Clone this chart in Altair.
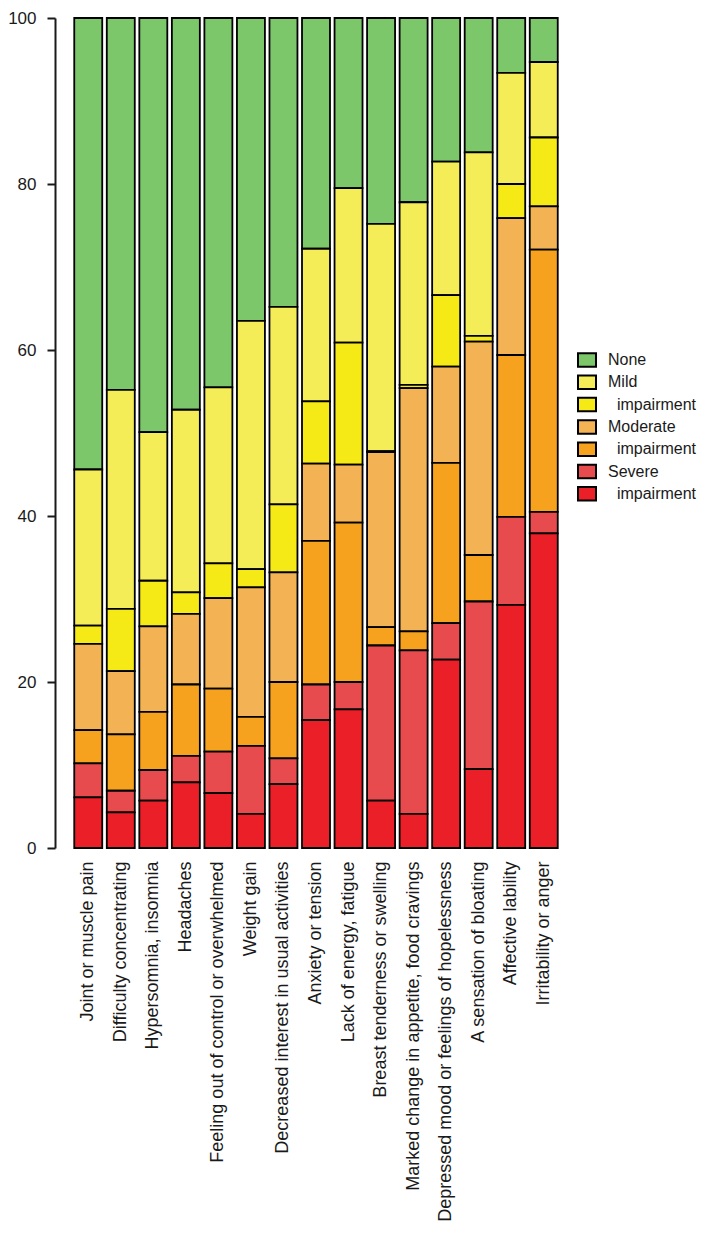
import altair as alt
import pandas as pd

categories = [
    "Joint or muscle pain",
    "Difficulty concentrating",
    "Hypersomnia, insomnia",
    "Headaches",
    "Feeling out of control or overwhelmed",
    "Weight gain",
    "Decreased interest in usual activities",
    "Anxiety or tension",
    "Lack of energy, fatigue",
    "Breast tenderness or swelling",
    "Marked change in appetite, food cravings",
    "Depressed mood or feelings of hopelessness",
    "A sensation of bloating",
    "Affective lability",
    "Irritability or anger",
]

severe_impairment = [6.1, 4.3, 5.7, 7.9, 6.6, 4.1, 7.7, 15.4, 16.7, 5.7, 4.1, 22.7, 9.5, 29.3, 37.9]
severe = [4.1, 2.6, 3.7, 3.2, 5.0, 8.2, 3.1, 4.3, 3.3, 18.7, 19.7, 4.4, 20.2, 10.6, 2.6]
moderate_impairment = [4.0, 6.8, 7.0, 8.6, 7.6, 3.5, 9.2, 17.3, 19.2, 2.2, 2.3, 19.3, 5.6, 19.5, 31.6]
moderate = [10.4, 7.6, 10.3, 8.5, 10.9, 15.6, 13.2, 9.3, 7.0, 21.1, 29.3, 11.6, 25.7, 16.5, 5.2]
mild_impairment = [2.2, 7.5, 5.5, 2.6, 4.2, 2.2, 8.2, 7.5, 14.7, 0.1, 0.4, 8.6, 0.7, 4.1, 8.3]
mild = [18.8, 26.4, 17.9, 22.0, 21.2, 29.9, 23.8, 18.4, 18.6, 27.4, 22.0, 16.1, 22.1, 13.4, 9.1]
none = [54.4, 44.8, 49.9, 47.2, 44.5, 36.5, 34.8, 27.8, 20.5, 24.8, 22.2, 17.3, 16.2, 6.6, 5.3]

levels = ["None", "Mild", "Mild impairment", "Moderate", "Moderate impairment",
          "Severe", "Severe impairment"]
colors = ["#7cc76a", "#f5ed57", "#f6ea16", "#f3b355", "#f6a21f", "#e84b4e", "#ea1f27"]
stack_rank = [6, 5, 4, 3, 2, 1, 0]

series = {
    "None": none,
    "Mild": mild,
    "Mild impairment": mild_impairment,
    "Moderate": moderate,
    "Moderate impairment": moderate_impairment,
    "Severe": severe,
    "Severe impairment": severe_impairment,
}

rows = []
for lvl, rank in zip(levels, stack_rank):
    for cat, v in zip(categories, series[lvl]):
        rows.append({"symptom": cat, "level": lvl, "value": v, "rank": rank})
df = pd.DataFrame(rows)

FONT = "Liberation Sans"

chart = alt.Chart(df).mark_bar(stroke="black", strokeWidth=1.8).encode(
    x=alt.X("symptom:N", sort=categories, title=None,
            scale=alt.Scale(paddingInner=0.14, paddingOuter=0.1),
            axis=alt.Axis(labelAngle=270, labelFontSize=18, labelFont=FONT,
                          labelColor="#1a1a1a", ticks=False, domain=False,
                          labelPadding=13, labelLimit=0)),
    y=alt.Y("value:Q", stack="zero", title=None,
            scale=alt.Scale(domain=[0, 100], nice=False),
            axis=alt.Axis(values=[0, 20, 40, 60, 80, 100], grid=False,
                          labelFontSize=17, labelFont=FONT, labelColor="#1a1a1a",
                          domainColor="#1a1a1a", domainWidth=2,
                          tickColor="#1a1a1a", tickWidth=2, tickSize=8,
                          labelPadding=11, offset=16)),
    color=alt.Color("level:N", scale=alt.Scale(domain=levels, range=colors),
                    legend=alt.Legend(
                        title=None, orient="none", legendX=506, legendY=332,
                        symbolType="M-1,-0.75H1V0.75H-1Z", symbolSize=324,
                        symbolStrokeColor="black", symbolStrokeWidth=2,
                        symbolOpacity=1,
                        labelFontSize=16, labelFont=FONT, labelColor="#1a1a1a",
                        labelOffset=11, rowPadding=0.3, padding=0, labelLimit=0,
                        labelExpr="indexof(datum.label, 'impairment') >= 0 ? '\u200b\u00a0\u00a0impairment' : datum.label")),
    order=alt.Order("rank:Q", sort="ascending"),
).properties(
    width=490,
    height=830,
    autosize=alt.AutoSizeParams(type="none"),
    padding={"left": 63, "top": 10, "right": 140, "bottom": 380},
).configure_view(stroke=None)

chart.save("out.html", embed_options={"renderer": "svg", "actions": False})
